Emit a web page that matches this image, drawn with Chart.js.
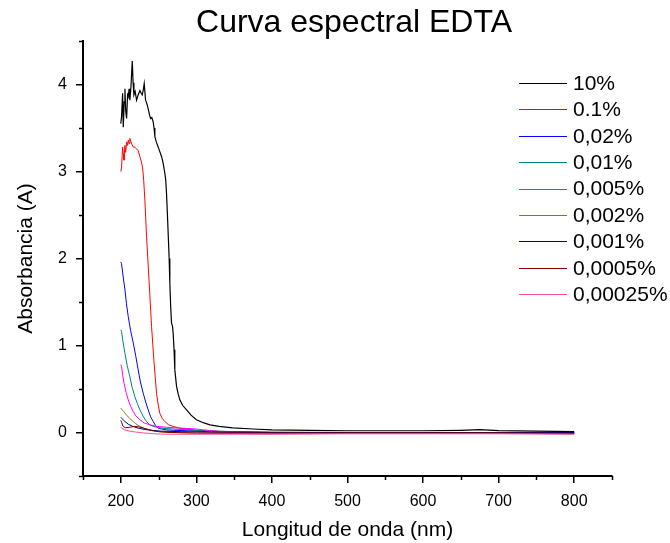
<!DOCTYPE html>
<html>
<head>
<meta charset="utf-8">
<script src="https://cdn.jsdelivr.net/npm/chart.js@4.4.1/dist/chart.umd.min.js"></script>
<style>
html,body{margin:0;padding:0;background:#fff;}
#wrap{width:670px;height:543px;position:relative;}
</style>
</head>
<body>
<div id="wrap"><canvas id="c" width="670" height="543"></canvas></div>
<script>
const chartTitle = "Curva espectral EDTA";
const xTitle = "Longitud de onda (nm)";
const yTitle = "Absorbancia (A)";
const seriesLabels = ["10%", "0.1%", "0,02%", "0,01%", "0,005%", "0,002%", "0,001%", "0,0005%", "0,00025%"];
const seriesColors = ["#000000", "#FF0000", "#0000FF", "#008080", "#FF00FF", "#808000", "#000080", "#800000", "#FF4D9E"];
const xTickValues = [200, 300, 400, 500, 600, 700, 800];
const yTickValues = [0, 1, 2, 3, 4];
const xMinorValues = [150, 250, 350, 450, 550, 650, 750, 850];
const yMinorValues = [-0.5, 0.5, 1.5, 2.5, 3.5, 4.5];

const wl10 = [200, 201, 202.4, 203.3, 204.5, 205.5, 206.5, 207.7, 209, 209.9, 211, 212, 213.5, 215.2, 216.3, 217.4, 219, 220.9, 223, 225.3, 227, 228.4, 230, 231, 232.8, 234.5, 236.3, 238, 239.4, 241, 242.9, 244, 245.1, 247, 249.5, 252, 254, 256, 258.3, 259.5, 260.5, 261.5, 262.7, 264, 264.9, 266, 267.1, 268.5, 269.3, 270.5, 271.5, 273.8, 276, 278.1, 282, 287, 293, 300, 310, 318, 330, 348, 375, 400, 450, 500, 550, 600, 650, 675, 700, 750, 800];
const abs10 = [3.55, 3.63, 3.90, 3.51, 3.80, 3.95, 3.70, 3.61, 3.88, 3.86, 3.95, 3.82, 3.98, 4.27, 4.02, 3.88, 3.92, 3.82, 3.88, 3.93, 3.90, 3.88, 3.95, 4.01, 3.82, 3.78, 3.72, 3.65, 3.61, 3.62, 3.57, 3.50, 3.40, 3.34, 3.28, 3.22, 3.17, 3.10, 2.98, 2.90, 2.75, 2.55, 2.29, 2.00, 1.72, 1.45, 1.26, 1.22, 1.14, 0.95, 0.72, 0.53, 0.44, 0.375, 0.31, 0.26, 0.20, 0.146, 0.11, 0.088, 0.07, 0.053, 0.04, 0.03, 0.025, 0.02, 0.02, 0.02, 0.025, 0.032, 0.022, 0.015, 0.01];

const wl01 = [200, 201, 202.4, 203.3, 204.2, 205.5, 206.5, 207.7, 209, 209.9, 211, 212, 214.3, 216.5, 218.5, 220.9, 223, 225.3, 227, 228.8, 230.3, 231.9, 234.1, 237.6, 240.7, 243.8, 247.3, 249.5, 251.7, 255, 258.3, 263, 269.3, 278, 287, 300, 330, 400, 500, 600, 700, 800];
const abs01 = [3.00, 3.04, 3.28, 3.20, 3.13, 3.30, 3.22, 3.34, 3.30, 3.36, 3.32, 3.38, 3.32, 3.28, 3.28, 3.26, 3.24, 3.17, 3.12, 3.05, 2.90, 2.67, 2.25, 1.72, 1.22, 0.83, 0.45, 0.32, 0.22, 0.16, 0.126, 0.09, 0.069, 0.05, 0.04, 0.025, 0.012, 0.005, 0.0, 0.0, 0.0, -0.005];

const wl002 = [200, 201, 203, 205.5, 207.5, 209.9, 213, 216.5, 220, 223, 226, 229.7, 233, 236.3, 239.5, 242.9, 246, 249.5, 254, 260.5, 270, 290, 320, 400, 500, 600, 700, 800];
const abs002 = [1.96, 1.94, 1.80, 1.64, 1.48, 1.33, 1.17, 1.03, 0.87, 0.72, 0.58, 0.45, 0.35, 0.26, 0.18, 0.126, 0.08, 0.05, 0.04, 0.03, 0.025, 0.02, 0.01, 0.0, -0.005, -0.005, -0.005, -0.01];

const wl001 = [200, 201, 203, 205.5, 208.5, 212, 215, 218.7, 222, 225.3, 230, 234.1, 238, 242.9, 250, 260, 280, 300, 350, 400, 500, 600, 700, 800];
const abs001 = [1.18, 1.16, 1.04, 0.91, 0.77, 0.64, 0.52, 0.41, 0.33, 0.26, 0.18, 0.126, 0.09, 0.07, 0.055, 0.045, 0.035, 0.025, 0.01, 0.0, -0.005, -0.005, -0.005, -0.01];

const wl0005 = [200, 201, 202.5, 204.2, 207, 209.9, 213, 216.5, 220, 225.3, 231, 238.5, 248, 260.5, 280, 300, 320, 350, 400, 500, 600, 700, 800];
const abs0005 = [0.78, 0.76, 0.66, 0.57, 0.46, 0.375, 0.30, 0.24, 0.19, 0.146, 0.11, 0.088, 0.07, 0.06, 0.05, 0.04, 0.02, 0.0, -0.01, -0.01, -0.01, -0.005, -0.01];

const wl0002 = [200, 201, 204, 207.7, 212, 216.5, 220, 225.3, 232, 238.5, 250, 270, 300, 400, 500, 600, 700, 800];
const abs0002 = [0.28, 0.27, 0.24, 0.20, 0.16, 0.126, 0.10, 0.07, 0.045, 0.03, 0.01, 0.0, -0.01, -0.015, -0.01, -0.01, -0.01, -0.015];

const wl0001 = [200, 201, 205.5, 210, 216, 223, 232, 240, 255, 280, 320, 400, 500, 600, 700, 800];
const abs0001 = [0.17, 0.165, 0.126, 0.095, 0.07, 0.05, 0.035, 0.025, 0.015, 0.01, 0.005, 0.0, 0.0, 0.0, 0.0, 0.0];

const wl00005 = [200, 201, 203, 206, 212, 218, 224, 230, 236, 242, 250, 265, 300, 400, 500, 600, 700, 800];
const abs00005 = [0.14, 0.12, 0.07, 0.055, 0.06, 0.07, 0.065, 0.05, 0.035, 0.02, 0.01, 0.0, -0.005, -0.005, -0.005, -0.005, -0.005, -0.01];

const wl000025 = [200, 201, 205, 212, 220, 230, 245, 260, 300, 400, 500, 600, 700, 800];
const abs000025 = [0.06, 0.05, 0.03, 0.015, 0.005, -0.005, -0.015, -0.02, -0.02, -0.02, -0.015, -0.015, -0.015, -0.02];

const seriesX = [wl10, wl01, wl002, wl001, wl0005, wl0002, wl0001, wl00005, wl000025];
const seriesY = [abs10, abs01, abs002, abs001, abs0005, abs0002, abs0001, abs00005, abs000025];

const FONT = "'Liberation Sans', Arial, sans-serif";

const datasets = seriesLabels.map((lab, i) => ({
  label: lab,
  data: seriesX[i].map((x, j) => ({x: x, y: seriesY[i][j]})),
  borderColor: seriesColors[i],
  backgroundColor: seriesColors[i],
  borderWidth: i === 0 ? 1.2 : 1,
  pointRadius: 0,
  tension: 0,
  fill: false,
  order: -i
}));

const decorPlugin = {
  id: 'decor',
  afterDraw(chart) {
    const ctx = chart.ctx;
    const xs = chart.scales.x, ys = chart.scales.y;
    const area = chart.chartArea;
    ctx.save();
    // minor ticks
    ctx.strokeStyle = '#000';
    ctx.lineWidth = 1.5;
    ctx.beginPath();
    xMinorValues.forEach(v => {
      const px = Math.round(xs.getPixelForValue(v)) + 0.5;
      ctx.moveTo(px, area.bottom);
      ctx.lineTo(px, area.bottom + 4);
    });
    yMinorValues.forEach(v => {
      const py = Math.round(ys.getPixelForValue(v)) + 0.5;
      ctx.moveTo(area.left, py);
      ctx.lineTo(area.left - 4, py);
    });
    ctx.stroke();
    // title
    ctx.fillStyle = '#000';
    ctx.font = "32px " + FONT;
    ctx.textAlign = 'center';
    ctx.textBaseline = 'middle';
    ctx.fillText(chartTitle, 354, 23);
    // legend
    ctx.font = "21px " + FONT;
    ctx.textAlign = 'left';
    seriesLabels.forEach((lab, i) => {
      const y = 83 + i * 26.4;
      ctx.strokeStyle = seriesColors[i];
      ctx.lineWidth = 1;
      ctx.beginPath();
      ctx.moveTo(519, Math.round(y) + 0.5);
      ctx.lineTo(567, Math.round(y) + 0.5);
      ctx.stroke();
      ctx.fillStyle = '#000';
      ctx.fillText(lab, 573, y + 1);
    });
    ctx.restore();
  }
};

new Chart(document.getElementById('c'), {
  type: 'line',
  data: { datasets: datasets },
  options: {
    responsive: false,
    animation: false,
    events: [],
    layout: { padding: { left: 0, right: 58, top: 41, bottom: 0 } },
    plugins: { legend: { display: false }, title: { display: false }, tooltip: { enabled: false } },
    scales: {
      x: {
        type: 'linear',
        min: 150, max: 850,
        afterFit(s) { s.height = 67; },
        afterBuildTicks(s) { s.ticks = xTickValues.map(v => ({value: v})); },
        border: { display: true, color: '#000', width: 2 },
        grid: { drawOnChartArea: false, drawTicks: true, tickLength: 7, color: '#000', lineWidth: 1.5 },
        ticks: { color: '#000', padding: 9, font: { family: FONT, size: 16 }, maxRotation: 0, autoSkip: false },
        title: { display: true, text: xTitle, color: '#000', font: { family: FONT, size: 21 }, padding: { top: 0, bottom: 0 } }
      },
      y: {
        type: 'linear',
        min: -0.5, max: 4.5,
        afterFit(s) { s.width = 83; },
        afterBuildTicks(s) { s.ticks = yTickValues.map(v => ({value: v})); },
        border: { display: true, color: '#000', width: 2 },
        grid: { drawOnChartArea: false, drawTicks: true, tickLength: 7, color: '#000', lineWidth: 1.5 },
        ticks: { color: '#000', padding: 9, font: { family: FONT, size: 16 }, autoSkip: false },
        title: { display: true, text: yTitle, color: '#000', font: { family: FONT, size: 21 }, padding: { top: 14, bottom: 0 } }
      }
    }
  },
  plugins: [decorPlugin]
});
</script>
</body>
</html>
